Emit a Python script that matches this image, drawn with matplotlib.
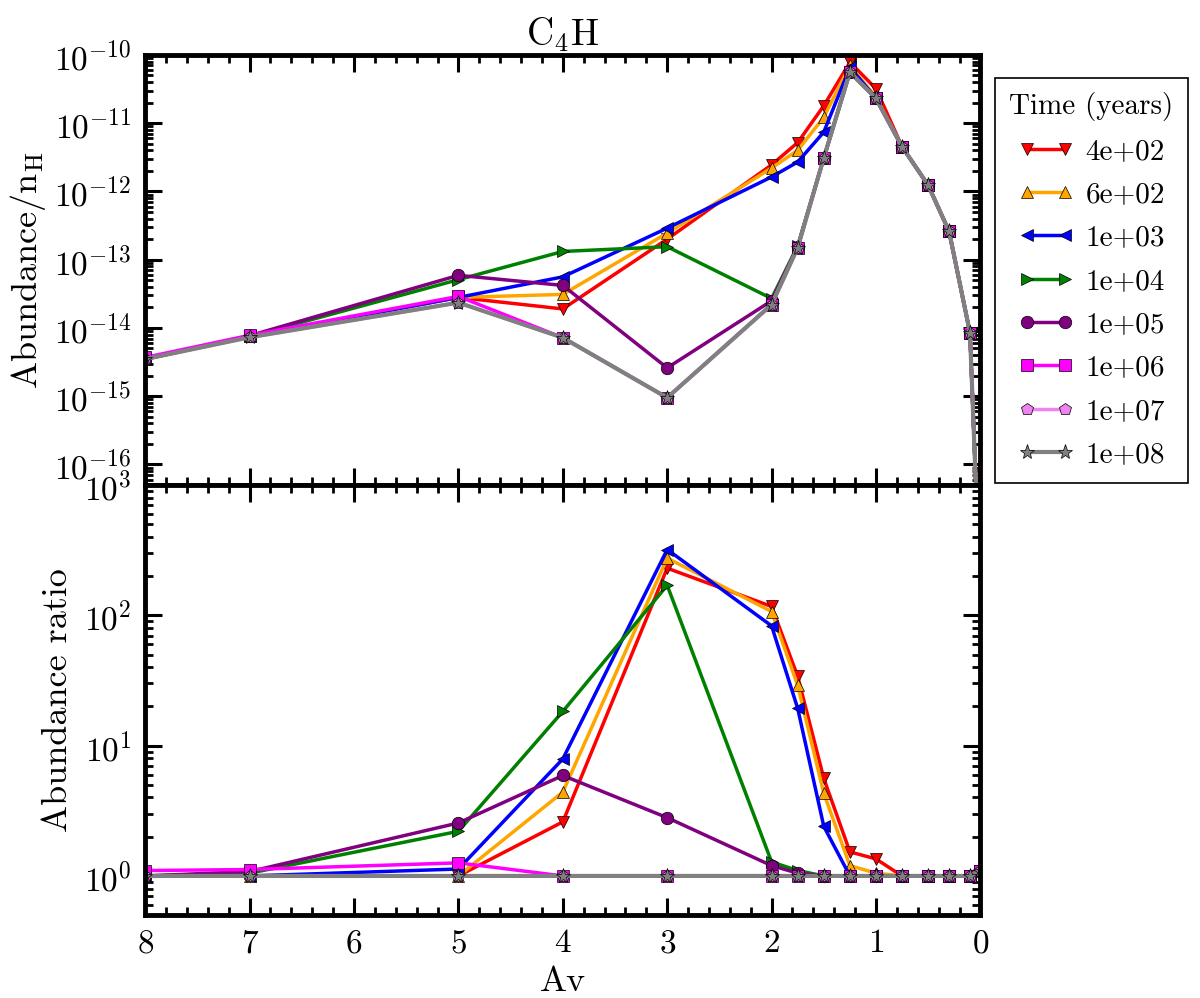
import numpy as np
import matplotlib
matplotlib.use("Agg")
import matplotlib.pyplot as plt
from matplotlib.ticker import LogLocator, MultipleLocator, NullFormatter

plt.rcParams['font.family'] = 'serif'
plt.rcParams['font.serif'] = ['cmr10']
plt.rcParams['mathtext.fontset'] = 'cm'
plt.rcParams['axes.unicode_minus'] = False
plt.rcParams['axes.formatter.use_mathtext'] = True

# ---------------- data ----------------
av = [8, 7, 5, 4, 3, 2, 1.75, 1.5, 1.25, 1.0, 0.75, 0.5, 0.3, 0.1, 0.0]

labels = ["4e+02", "6e+02", "1e+03", "1e+04", "1e+05", "1e+06", "1e+07", "1e+08"]
colors = ["red", "orange", "blue", "green", "purple", "magenta", "violet", "gray"]
markers = ["v", "^", "<", ">", "o", "s", "p", "*"]

# abundance / nH (top panel)
ab_4e2 = [3.5e-15, 7.5e-15, 2.8e-14, 1.9e-14, 2.0e-13, 2.45e-12, 5.2e-12, 1.8e-11, 7.8e-11, 3.2e-11, 4.5e-12, 1.23e-12, 2.6e-13, 8.5e-15, 1e-18]
ab_6e2 = [3.5e-15, 7.5e-15, 2.8e-14, 3.1e-14, 2.45e-13, 2.2e-12, 4.0e-12, 1.22e-11, 7.0e-11, 2.4e-11, 4.5e-12, 1.23e-12, 2.6e-13, 8.5e-15, 1e-18]
ab_1e3 = [3.5e-15, 7.5e-15, 2.8e-14, 5.6e-14, 2.9e-13, 1.63e-12, 2.7e-12, 7.4e-12, 6.6e-11, 2.3e-11, 4.5e-12, 1.23e-12, 2.6e-13, 8.5e-15, 1e-18]
ab_1e4 = [3.5e-15, 7.5e-15, 5.1e-14, 1.32e-13, 1.55e-13, 2.7e-14, 1.6e-13, 3.1e-12, 5.6e-11, 2.3e-11, 4.5e-12, 1.23e-12, 2.6e-13, 8.5e-15, 1e-18]
ab_1e5 = [3.5e-15, 7.7e-15, 5.9e-14, 4.2e-14, 2.6e-15, 2.5e-14, 1.55e-13, 3.1e-12, 5.6e-11, 2.3e-11, 4.5e-12, 1.23e-12, 2.6e-13, 8.5e-15, 1e-18]
ab_1e6 = [3.7e-15, 7.8e-15, 2.9e-14, 7.2e-15, 9.5e-16, 2.2e-14, 1.5e-13, 3.1e-12, 5.6e-11, 2.3e-11, 4.5e-12, 1.23e-12, 2.6e-13, 8.5e-15, 1e-18]
ab_1e7 = [3.5e-15, 7.3e-15, 2.35e-14, 7.2e-15, 9.5e-16, 2.2e-14, 1.5e-13, 3.1e-12, 5.6e-11, 2.3e-11, 4.5e-12, 1.23e-12, 2.6e-13, 8.5e-15, 1e-18]
ab_1e8 = [3.5e-15, 7.3e-15, 2.35e-14, 7.2e-15, 9.5e-16, 2.2e-14, 1.5e-13, 3.1e-12, 5.6e-11, 2.3e-11, 4.5e-12, 1.23e-12, 2.6e-13, 8.5e-15, 1e-18]

# abundance ratio (bottom panel)
r_4e2 = [1.0, 1.0, 1.0, 2.6, 230, 117, 34, 5.6, 1.53, 1.35, 1.0, 1.0, 1.0, 1.0, 1.1]
r_6e2 = [1.0, 1.0, 1.0, 4.4, 275, 107, 29, 4.3, 1.2, 1.05, 1.0, 1.0, 1.0, 1.0, 1.1]
r_1e3 = [1.0, 1.0, 1.13, 7.9, 320, 83, 19.3, 2.4, 1.0, 1.0, 1.0, 1.0, 1.0, 1.0, 1.1]
r_1e4 = [1.0, 1.05, 2.2, 18.3, 170, 1.28, 1.1, 1.0, 1.0, 1.0, 1.0, 1.0, 1.0, 1.0, 1.1]
r_1e5 = [1.0, 1.08, 2.55, 5.9, 2.8, 1.2, 1.05, 1.0, 1.0, 1.0, 1.0, 1.0, 1.0, 1.0, 1.1]
r_1e6 = [1.1, 1.12, 1.26, 1.0, 1.0, 1.0, 1.0, 1.0, 1.0, 1.0, 1.0, 1.0, 1.0, 1.0, 1.1]
r_1e7 = [1.0, 1.0, 1.0, 1.0, 1.0, 1.0, 1.0, 1.0, 1.0, 1.0, 1.0, 1.0, 1.0, 1.0, 1.1]
r_1e8 = [1.0, 1.0, 1.0, 1.0, 1.0, 1.0, 1.0, 1.0, 1.0, 1.0, 1.0, 1.0, 1.0, 1.0, 1.1]

abund = [ab_4e2, ab_6e2, ab_1e3, ab_1e4, ab_1e5, ab_1e6, ab_1e7, ab_1e8]
ratio = [r_4e2, r_6e2, r_1e3, r_1e4, r_1e5, r_1e6, r_1e7, r_1e8]

# ---------------- figure ----------------
fig = plt.figure(figsize=(12, 9.98), dpi=100)
left, right, top, bottom = 0.121, 0.817, 0.945, 0.083
h = (top - bottom) / 2
ax1 = fig.add_axes([left, bottom + h, right - left, h])
ax2 = fig.add_axes([left, bottom, right - left, h], sharex=ax1)

FS = 24
handles = []
for i in range(len(labels)):
    lw = 3.0 if labels[i] == "1e+08" else 2.5
    ms = 11 if markers[i] == "*" else 9
    l, = ax1.plot(av, abund[i], color=colors[i], marker=markers[i], lw=lw, ms=ms,
                  mec="black", mew=0.5, label=labels[i], clip_on=True)
    ax2.plot(av, ratio[i], color=colors[i], marker=markers[i], lw=lw, ms=ms,
             mec="black", mew=0.5, clip_on=True)
    handles.append(l)

for ax in (ax1, ax2):
    ax.set_yscale("log")
    for s in ax.spines.values():
        s.set_linewidth(3.5)
    ax.tick_params(which="both", direction="in", top=True, right=True,
                   labelsize=FS)
    ax.tick_params(which="major", length=12, width=2.2, pad=10)
    ax.tick_params(which="minor", length=6, width=2.0)
    ax.yaxis.set_major_locator(LogLocator(base=10, numticks=20))
    ax.yaxis.set_minor_locator(LogLocator(base=10, subs=np.arange(2, 10), numticks=20))
    ax.yaxis.set_minor_formatter(NullFormatter())
    ax.xaxis.set_major_locator(MultipleLocator(1))
    ax.xaxis.set_minor_locator(MultipleLocator(0.2))

ax1.set_xlim(8, 0)
ax1.set_ylim(5e-17, 1e-10)
ax2.set_ylim(0.5, 1e3)
ax1.tick_params(labelbottom=False)

ax1.set_title(r"C$_4$H", fontsize=27, pad=7)
ax1.set_ylabel(r"Abundance/n$_\mathrm{H}$", fontsize=FS + 2)
ax2.set_ylabel("Abundance ratio", fontsize=FS + 2, labelpad=7)
ax2.set_xlabel("Av", fontsize=FS + 2, labelpad=6)

leg = fig.legend(handles=handles, loc="upper left", bbox_to_anchor=(0.829, 0.922),
                 title="Time (years)", fontsize=21, title_fontsize=21,
                 numpoints=2, fancybox=False, edgecolor="black", framealpha=1,
                 handlelength=1.9, handletextpad=0.4, borderpad=0.5,
                 labelspacing=0.58, borderaxespad=0)
leg.get_frame().set_linewidth(1.2)

fig.savefig("out.png", dpi=100)
